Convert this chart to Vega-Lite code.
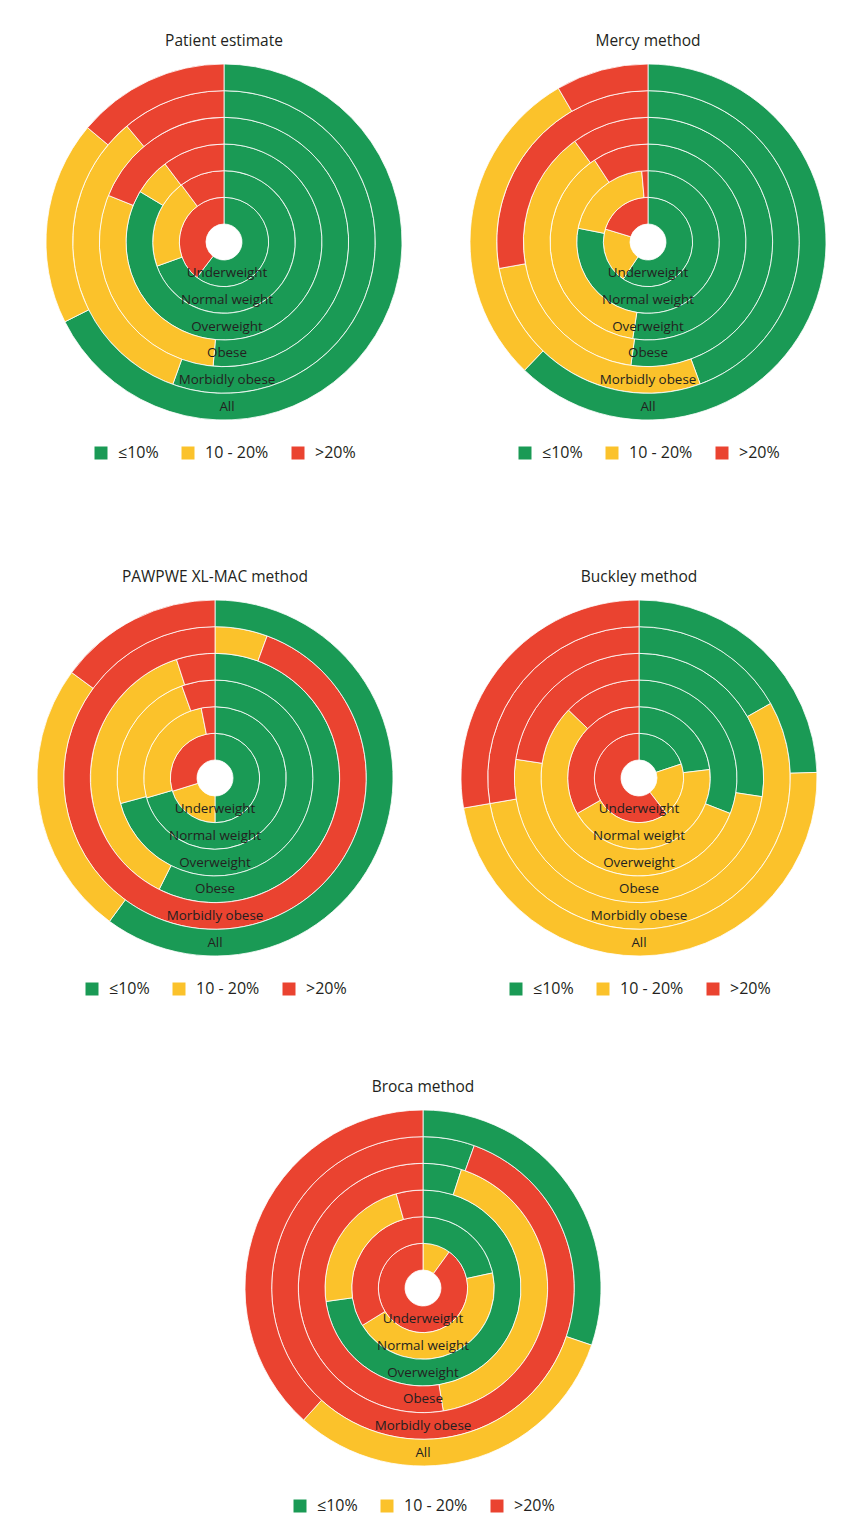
{
  "$schema": "https://vega.github.io/schema/vega-lite/v6.json",
  "padding": {"left": 34, "top": 33, "right": 0, "bottom": 8},
  "background": "white",
  "datasets": {
    "patient": [
      {"ring": "Underweight", "cat": "≤10%", "k": 1, "pct": 60.4},
      {"ring": "Underweight", "cat": ">20%", "k": 3, "pct": 39.6},
      {"ring": "Normal weight", "cat": "≤10%", "k": 1, "pct": 69.5},
      {"ring": "Normal weight", "cat": "10 - 20%", "k": 2, "pct": 20.3},
      {"ring": "Normal weight", "cat": ">20%", "k": 3, "pct": 10.2},
      {"ring": "Overweight", "cat": "≤10%", "k": 1, "pct": 83.6},
      {"ring": "Overweight", "cat": "10 - 20%", "k": 2, "pct": 6.1},
      {"ring": "Overweight", "cat": ">20%", "k": 3, "pct": 10.3},
      {"ring": "Obese", "cat": "≤10%", "k": 1, "pct": 51.4},
      {"ring": "Obese", "cat": "10 - 20%", "k": 2, "pct": 29.7},
      {"ring": "Obese", "cat": ">20%", "k": 3, "pct": 18.9},
      {"ring": "Morbidly obese", "cat": "≤10%", "k": 1, "pct": 55.5},
      {"ring": "Morbidly obese", "cat": "10 - 20%", "k": 2, "pct": 33.4},
      {"ring": "Morbidly obese", "cat": ">20%", "k": 3, "pct": 11.1},
      {"ring": "All", "cat": "≤10%", "k": 1, "pct": 67.6},
      {"ring": "All", "cat": "10 - 20%", "k": 2, "pct": 18.5},
      {"ring": "All", "cat": ">20%", "k": 3, "pct": 13.9}
    ],
    "mercy": [
      {"ring": "Underweight", "cat": "≤10%", "k": 1, "pct": 59.4},
      {"ring": "Underweight", "cat": "10 - 20%", "k": 2, "pct": 20.3},
      {"ring": "Underweight", "cat": ">20%", "k": 3, "pct": 20.3},
      {"ring": "Normal weight", "cat": "≤10%", "k": 1, "pct": 78.1},
      {"ring": "Normal weight", "cat": "10 - 20%", "k": 2, "pct": 20.5},
      {"ring": "Normal weight", "cat": ">20%", "k": 3, "pct": 1.4},
      {"ring": "Overweight", "cat": "≤10%", "k": 1, "pct": 52.5},
      {"ring": "Overweight", "cat": "10 - 20%", "k": 2, "pct": 38.3},
      {"ring": "Overweight", "cat": ">20%", "k": 3, "pct": 9.2},
      {"ring": "Obese", "cat": "≤10%", "k": 1, "pct": 52.2},
      {"ring": "Obese", "cat": "10 - 20%", "k": 2, "pct": 37.8},
      {"ring": "Obese", "cat": ">20%", "k": 3, "pct": 10.0},
      {"ring": "Morbidly obese", "cat": "≤10%", "k": 1, "pct": 44.4},
      {"ring": "Morbidly obese", "cat": "10 - 20%", "k": 2, "pct": 27.8},
      {"ring": "Morbidly obese", "cat": ">20%", "k": 3, "pct": 27.8},
      {"ring": "All", "cat": "≤10%", "k": 1, "pct": 62.2},
      {"ring": "All", "cat": "10 - 20%", "k": 2, "pct": 29.4},
      {"ring": "All", "cat": ">20%", "k": 3, "pct": 8.4}
    ],
    "pawpwe": [
      {"ring": "Underweight", "cat": "≤10%", "k": 1, "pct": 50.0},
      {"ring": "Underweight", "cat": "10 - 20%", "k": 2, "pct": 20.2},
      {"ring": "Underweight", "cat": ">20%", "k": 3, "pct": 29.8},
      {"ring": "Normal weight", "cat": "≤10%", "k": 1, "pct": 70.5},
      {"ring": "Normal weight", "cat": "10 - 20%", "k": 2, "pct": 26.4},
      {"ring": "Normal weight", "cat": ">20%", "k": 3, "pct": 3.1},
      {"ring": "Overweight", "cat": "≤10%", "k": 1, "pct": 70.8},
      {"ring": "Overweight", "cat": "10 - 20%", "k": 2, "pct": 23.7},
      {"ring": "Overweight", "cat": ">20%", "k": 3, "pct": 5.5},
      {"ring": "Obese", "cat": "≤10%", "k": 1, "pct": 57.4},
      {"ring": "Obese", "cat": "10 - 20%", "k": 2, "pct": 37.6},
      {"ring": "Obese", "cat": ">20%", "k": 3, "pct": 5.0},
      {"ring": "Morbidly obese", "cat": "10 - 20%", "k": 2, "pct": 5.6},
      {"ring": "Morbidly obese", "cat": ">20%", "k": 3, "pct": 94.4},
      {"ring": "All", "cat": "≤10%", "k": 1, "pct": 60.1},
      {"ring": "All", "cat": "10 - 20%", "k": 2, "pct": 25.0},
      {"ring": "All", "cat": ">20%", "k": 3, "pct": 14.9}
    ],
    "buckley": [
      {"ring": "Underweight", "cat": "≤10%", "k": 1, "pct": 19.9},
      {"ring": "Underweight", "cat": "10 - 20%", "k": 2, "pct": 19.7},
      {"ring": "Underweight", "cat": ">20%", "k": 3, "pct": 60.4},
      {"ring": "Normal weight", "cat": "≤10%", "k": 1, "pct": 23.1},
      {"ring": "Normal weight", "cat": "10 - 20%", "k": 2, "pct": 43.6},
      {"ring": "Normal weight", "cat": ">20%", "k": 3, "pct": 33.3},
      {"ring": "Overweight", "cat": "≤10%", "k": 1, "pct": 30.9},
      {"ring": "Overweight", "cat": "10 - 20%", "k": 2, "pct": 56.3},
      {"ring": "Overweight", "cat": ">20%", "k": 3, "pct": 12.8},
      {"ring": "Obese", "cat": "≤10%", "k": 1, "pct": 27.4},
      {"ring": "Obese", "cat": "10 - 20%", "k": 2, "pct": 50.0},
      {"ring": "Obese", "cat": ">20%", "k": 3, "pct": 22.6},
      {"ring": "Morbidly obese", "cat": "≤10%", "k": 1, "pct": 16.8},
      {"ring": "Morbidly obese", "cat": "10 - 20%", "k": 2, "pct": 55.5},
      {"ring": "Morbidly obese", "cat": ">20%", "k": 3, "pct": 27.7},
      {"ring": "All", "cat": "≤10%", "k": 1, "pct": 24.5},
      {"ring": "All", "cat": "10 - 20%", "k": 2, "pct": 47.8},
      {"ring": "All", "cat": ">20%", "k": 3, "pct": 27.7}
    ],
    "broca": [
      {"ring": "Underweight", "cat": "10 - 20%", "k": 2, "pct": 10.0},
      {"ring": "Underweight", "cat": ">20%", "k": 3, "pct": 90.0},
      {"ring": "Normal weight", "cat": "≤10%", "k": 1, "pct": 21.6},
      {"ring": "Normal weight", "cat": "10 - 20%", "k": 2, "pct": 44.6},
      {"ring": "Normal weight", "cat": ">20%", "k": 3, "pct": 33.8},
      {"ring": "Overweight", "cat": "≤10%", "k": 1, "pct": 72.8},
      {"ring": "Overweight", "cat": "10 - 20%", "k": 2, "pct": 22.8},
      {"ring": "Overweight", "cat": ">20%", "k": 3, "pct": 4.4},
      {"ring": "Obese", "cat": "≤10%", "k": 1, "pct": 5.0},
      {"ring": "Obese", "cat": "10 - 20%", "k": 2, "pct": 42.4},
      {"ring": "Obese", "cat": ">20%", "k": 3, "pct": 52.6},
      {"ring": "Morbidly obese", "cat": "≤10%", "k": 1, "pct": 5.5},
      {"ring": "Morbidly obese", "cat": ">20%", "k": 3, "pct": 94.5},
      {"ring": "All", "cat": "≤10%", "k": 1, "pct": 30.2},
      {"ring": "All", "cat": "10 - 20%", "k": 2, "pct": 31.5},
      {"ring": "All", "cat": ">20%", "k": 3, "pct": 38.3}
    ]
  },
  "spacing": 108,
  "resolve": {"legend": {"color": "independent"}},
  "vconcat": [
    {
      "spacing": 44,
      "resolve": {"legend": {"color": "independent"}},
      "hconcat": [
        {
          "data": {"name": "patient"},
          "title": "Patient estimate",
          "width": 380, "height": 370,
          "layer": [
            {"mark": {"type": "arc", "stroke": "white", "strokeWidth": 0.8},
             "encoding": {
               "theta": {"field": "pct", "type": "quantitative", "stack": "normalize"},
               "radius": {"field": "ring", "type": "ordinal", "scale": {"type": "band", "domain": ["Underweight", "Normal weight", "Overweight", "Obese", "Morbidly obese", "All"], "range": [18, 178], "paddingInner": 0, "paddingOuter": 0}},
               "color": {"field": "cat", "type": "nominal", "scale": {"domain": ["≤10%", "10 - 20%", ">20%"], "range": ["#1a9a55", "#fbc22b", "#ea4330"]}, "legend": {"title": null}},
               "order": {"field": "k", "type": "quantitative"}
             }},
            {"transform": [{"aggregate": [{"op": "count", "as": "n"}], "groupby": ["ring"]}],
             "mark": {"type": "text", "fontSize": 13.4, "color": "#231f20", "align": "center", "baseline": "middle", "theta": 3.14159, "dx": 3},
             "encoding": {
               "text": {"field": "ring", "type": "nominal"},
               "radius": {"field": "ring", "type": "ordinal", "bandPosition": 0.5}
             }}
          ]
        },
        {
          "data": {"name": "mercy"},
          "title": "Mercy method",
          "width": 380, "height": 370,
          "layer": [
            {"mark": {"type": "arc", "stroke": "white", "strokeWidth": 0.8},
             "encoding": {
               "theta": {"field": "pct", "type": "quantitative", "stack": "normalize"},
               "radius": {"field": "ring", "type": "ordinal", "scale": {"type": "band", "domain": ["Underweight", "Normal weight", "Overweight", "Obese", "Morbidly obese", "All"], "range": [18, 178], "paddingInner": 0, "paddingOuter": 0}},
               "color": {"field": "cat", "type": "nominal", "scale": {"domain": ["≤10%", "10 - 20%", ">20%"], "range": ["#1a9a55", "#fbc22b", "#ea4330"]}, "legend": {"title": null}},
               "order": {"field": "k", "type": "quantitative"}
             }},
            {"transform": [{"aggregate": [{"op": "count", "as": "n"}], "groupby": ["ring"]}],
             "mark": {"type": "text", "fontSize": 13.4, "color": "#231f20", "align": "center", "baseline": "middle", "theta": 3.14159},
             "encoding": {
               "text": {"field": "ring", "type": "nominal"},
               "radius": {"field": "ring", "type": "ordinal", "bandPosition": 0.5}
             }}
          ]
        }
      ]
    },
    {
      "spacing": 82,
      "resolve": {"legend": {"color": "independent"}},
      "vconcat": [
        {
          "spacing": 53,
          "resolve": {"legend": {"color": "independent"}},
          "hconcat": [
            {
              "data": {"name": "pawpwe"},
              "title": "PAWPWE XL-MAC method",
              "width": 362, "height": 370,
              "layer": [
                {"mark": {"type": "arc", "stroke": "white", "strokeWidth": 0.8},
                 "encoding": {
                   "theta": {"field": "pct", "type": "quantitative", "stack": "normalize"},
                   "radius": {"field": "ring", "type": "ordinal", "scale": {"type": "band", "domain": ["Underweight", "Normal weight", "Overweight", "Obese", "Morbidly obese", "All"], "range": [18, 178], "paddingInner": 0, "paddingOuter": 0}},
                   "color": {"field": "cat", "type": "nominal", "scale": {"domain": ["≤10%", "10 - 20%", ">20%"], "range": ["#1a9a55", "#fbc22b", "#ea4330"]}, "legend": {"title": null}},
                   "order": {"field": "k", "type": "quantitative"}
                 }},
                {"transform": [{"aggregate": [{"op": "count", "as": "n"}], "groupby": ["ring"]}],
                 "mark": {"type": "text", "fontSize": 13.4, "color": "#231f20", "align": "center", "baseline": "middle", "theta": 3.14159},
                 "encoding": {
                   "text": {"field": "ring", "type": "nominal"},
                   "radius": {"field": "ring", "type": "ordinal", "bandPosition": 0.5}
                 }}
              ]
            },
            {
              "data": {"name": "buckley"},
              "title": "Buckley method",
              "width": 380, "height": 370,
              "layer": [
                {"mark": {"type": "arc", "stroke": "white", "strokeWidth": 0.8},
                 "encoding": {
                   "theta": {"field": "pct", "type": "quantitative", "stack": "normalize"},
                   "radius": {"field": "ring", "type": "ordinal", "scale": {"type": "band", "domain": ["Underweight", "Normal weight", "Overweight", "Obese", "Morbidly obese", "All"], "range": [18, 178], "paddingInner": 0, "paddingOuter": 0}},
                   "color": {"field": "cat", "type": "nominal", "scale": {"domain": ["≤10%", "10 - 20%", ">20%"], "range": ["#1a9a55", "#fbc22b", "#ea4330"]}, "legend": {"title": null}},
                   "order": {"field": "k", "type": "quantitative"}
                 }},
                {"transform": [{"aggregate": [{"op": "count", "as": "n"}], "groupby": ["ring"]}],
                 "mark": {"type": "text", "fontSize": 13.4, "color": "#231f20", "align": "center", "baseline": "middle", "theta": 3.14159},
                 "encoding": {
                   "text": {"field": "ring", "type": "nominal"},
                   "radius": {"field": "ring", "type": "ordinal", "bandPosition": 0.5}
                 }}
              ]
            }
          ]
        },
        {
          "data": {"name": "broca"},
          "title": "Broca method",
          "width": 778, "height": 370,
          "layer": [
            {"mark": {"type": "arc", "stroke": "white", "strokeWidth": 0.8},
             "encoding": {
               "theta": {"field": "pct", "type": "quantitative", "stack": "normalize"},
               "radius": {"field": "ring", "type": "ordinal", "scale": {"type": "band", "domain": ["Underweight", "Normal weight", "Overweight", "Obese", "Morbidly obese", "All"], "range": [18, 178], "paddingInner": 0, "paddingOuter": 0}},
               "color": {"field": "cat", "type": "nominal", "scale": {"domain": ["≤10%", "10 - 20%", ">20%"], "range": ["#1a9a55", "#fbc22b", "#ea4330"]}, "legend": {"title": null, "offset": 25}},
               "order": {"field": "k", "type": "quantitative"}
             }},
            {"transform": [{"aggregate": [{"op": "count", "as": "n"}], "groupby": ["ring"]}],
             "mark": {"type": "text", "fontSize": 13.4, "color": "#231f20", "align": "center", "baseline": "middle", "theta": 3.14159},
             "encoding": {
               "text": {"field": "ring", "type": "nominal"},
               "radius": {"field": "ring", "type": "ordinal", "bandPosition": 0.5}
             }}
          ]
        }
      ]
    }
  ],
  "config": {
    "font": "Open Sans",
    "view": {"stroke": null},
    "title": {"fontSize": 15.5, "fontWeight": "normal", "color": "#231f20", "offset": 8, "anchor": "middle"},
    "legend": {
      "orient": "bottom",
      "direction": "horizontal",
      "symbolType": "square",
      "symbolSize": 169,
      "symbolStrokeWidth": 0,
      "labelFontSize": 16,
      "labelColor": "#231f20",
      "labelOffset": 9,
      "columnPadding": 21,
      "offset": 18,
      "layout": {"bottom": {"anchor": "middle"}}
    }
  }
}
